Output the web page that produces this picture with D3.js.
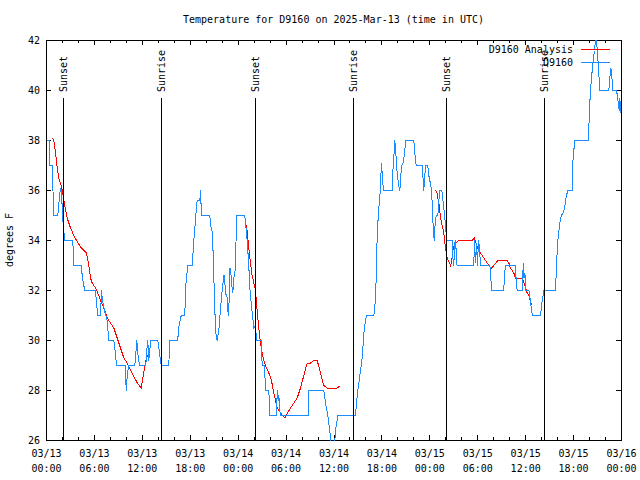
<!DOCTYPE html>
<html>
<head>
<meta charset="utf-8">
<script src="https://cdn.jsdelivr.net/npm/d3@7"></script>
<style>
  html, body { margin: 0; padding: 0; background: #fff; }
  svg { display: block; }
</style>
</head>
<body>
<svg id="chart" width="640" height="480"></svg>
<script>
// ---------------- DATA ----------------
const chartTitle = "Temperature for D9160 on 2025-Mar-13 (time in UTC)";
const yLabel = "degrees F";
const seriesNames = ["D9160 Analysis", "D9160"];
const startUTC = Date.UTC(2025, 2, 13, 0, 0);   // 2025-03-13 00:00 UTC
const spanHours = 72;
const yTicks = [26, 28, 30, 32, 34, 36, 38, 40, 42];
const majorTickHours = [0, 6, 12, 18, 24, 30, 36, 42, 48, 54, 60, 66, 72];
const minorTickHours = [2, 4, 8, 10, 14, 16, 20, 22, 26, 28, 32, 34, 38, 40, 44, 46, 50, 52, 56, 58, 62, 64, 68, 70];
const sunsetHours = [2.17, 26.17, 50.1];
const sunriseHours = [14.4, 38.45, 62.38];

// observed D9160 temperature: [hours since start, degrees F]
const observed = [
[0,38],[0.33,38],[0.41,37],[0.79,37],[0.81,36],[0.91,35],[1.41,35],[1.67,35.9],[1.79,36.1],[1.88,36],[2.0,35],[2.17,34.4],[2.25,34],[3.29,34],[3.42,33],[4.35,33],[4.47,32.6],[4.67,32.2],[4.8,32],[6.14,32],[6.26,31.5],[6.42,31],[6.76,31],[6.89,32],[7.01,31.6],[7.26,31.2],[7.6,30.8],[7.8,30],[8.43,30],[8.58,29.6],[8.77,29],[9.89,29],[9.93,28.3],[10.02,28],[10.1,28.6],[10.31,29],[11.06,29],[11.21,29.6],[11.31,30],[11.43,29.5],[11.65,29],[12.43,29],[12.56,29.6],[12.68,30],[12.81,29.2],[12.94,29.6],[13.02,30],[13.94,30],[14.36,29],[15.31,29],[15.44,30],[16.44,30],[16.53,30.5],[16.87,31],[17.32,31],[17.41,32.1],[17.69,33],[18.24,33],[18.45,34],[18.75,35.2],[18.87,35.6],[19.2,35.6],[19.28,36],[19.41,35],[20.45,35],[20.54,34.6],[20.79,34.3],[20.91,32.9],[21.04,31.7],[21.16,30.4],[21.37,30],[21.58,30.4],[21.79,31.3],[22.0,32],[22.2,32.6],[22.29,32.6],[22.41,31.9],[22.63,31.7],[22.7,31.2],[22.83,31],[22.92,32.9],[23.04,32.9],[23.17,32.3],[23.33,31.9],[23.45,32.5],[23.67,32.9],[23.79,35],[24.83,35],[24.92,34.7],[25.13,34],[25.33,33],[25.46,32.1],[25.63,31.5],[25.96,30.5],[26.17,30.6],[26.3,30],[26.88,30],[27.01,29],[27.3,29],[27.42,28],[27.84,28],[27.96,27],[28.8,27],[28.89,28],[29.01,27.6],[29.09,27.8],[29.21,27.2],[29.3,27],[32.77,27],[32.81,28],[34.72,28],[34.94,27.5],[35.22,27],[35.47,26.4],[35.65,25.8],[36.06,25.8],[36.19,26.4],[36.48,27],[38.69,27],[38.82,27.5],[38.98,28],[39.53,29.3],[39.74,30.3],[39.95,30.8],[40.07,31],[40.98,31],[41.11,31.3],[41.2,31.8],[41.32,32.8],[41.41,34.3],[41.61,35.3],[41.74,35.7],[41.82,36.3],[41.95,37.1],[42.11,36.3],[42.24,36],[43.29,36],[43.36,36.7],[43.49,37.3],[43.61,38],[43.79,37.3],[43.91,36.7],[44.11,36.2],[44.24,36],[44.33,36.4],[44.45,37],[44.67,37.1],[44.83,37.5],[44.99,38],[45.99,38],[46.12,37.5],[46.29,37],[47.04,37],[47.17,36.4],[47.24,36],[47.37,36.6],[47.49,37],[47.74,37],[47.87,36.6],[48.0,36.4],[48.17,36.1],[48.3,35.5],[48.42,34.5],[48.55,34],[48.62,34.5],[48.8,35],[49.0,35],[49.13,35.6],[49.25,36],[49.5,36],[49.68,35.5],[49.88,34.9],[50.0,34.5],[50.09,34],[50.8,34],[50.88,33.3],[51.0,33],[51.12,33.9],[51.25,34],[51.33,33.1],[51.42,33],[53.5,33],[53.59,34],[53.72,33.1],[53.84,33.9],[53.97,33],[54.09,34],[54.22,33.7],[54.35,33],[55.51,33],[55.6,32.8],[55.72,32],[57.26,32],[57.35,32.7],[57.51,33],[58.73,33],[58.82,32.3],[58.94,32],[59.57,32],[59.7,33.1],[59.78,32.5],[59.9,32.7],[60.03,32],[60.41,32],[60.62,31.5],[60.84,31],[61.86,31],[62.07,31.6],[62.28,32],[63.74,32],[63.87,33.1],[64.03,34],[64.28,34.7],[64.45,35],[64.7,35.1],[64.86,35.3],[65.11,35.8],[65.28,36],[65.83,36],[65.9,37.1],[66.03,37.6],[66.15,38],[67.83,38],[67.91,38.5],[68.0,39.3],[68.12,40],[68.25,40.5],[68.41,41.1],[68.62,41.6],[68.74,42],[68.87,42.3],[68.95,41.6],[69.08,41.1],[69.21,40.4],[69.28,40],[70.41,40],[70.54,40.5],[70.67,40.9],[70.8,40.5],[70.92,40],[71.39,40],[71.47,39.8],[71.6,39.5],[71.72,39.2],[71.8,39.7],[71.88,39.1]
];

// analysis D9160 temperature (null = gap)
const analysis = [
[0.75,38.1],[0.91,38.0],[1.13,37.5],[1.34,36.9],[1.54,36.5],[1.75,36.3],[1.97,36.0],[2.17,35.6],[2.59,34.9],[3.01,34.5],[3.42,34.2],[3.76,34.0],[4.35,33.7],[5.01,33.5],[5.35,32.9],[5.51,32.5],[5.72,32.3],[6.14,32.1],[6.55,31.8],[6.76,31.6],[7.18,31.3],[7.6,30.9],[8.01,30.7],[8.43,30.5],[8.85,30.1],[9.27,29.7],[9.68,29.3],[10.1,29.1],[10.73,28.7],[11.36,28.3],[11.86,28.1],[12.06,28.5],[12.27,28.9],[12.43,29.2],[12.81,29.5],
[18, null],
[24.92,34.7],[25.13,34.4],[25.33,33.7],[25.54,33.1],[25.75,32.6],[26.17,32.0],[26.3,31.5],[26.46,30.9],[26.58,30.5],[26.71,30.1],[27.01,29.5],[27.21,29.2],[27.42,29.0],[27.84,28.7],[28.17,28.4],[28.46,27.9],[28.89,27.3],[29.3,27.1],[29.84,26.9],[30.55,27.3],[31.39,27.7],[31.81,28.1],[32.22,28.6],[32.64,29.1],[33.06,29.1],[33.47,29.2],[33.9,29.2],[34.31,28.7],[34.72,28.2],[35.15,28.1],[35.56,28.1],[35.97,28.1],[36.39,28.1],[36.81,28.2],
[42, null],
[48.71,36.0],[48.92,35.9],[49.0,35.7],[49.13,35.5],[49.34,34.9],[49.55,34.6],[49.75,34.3],[49.96,33.7],[50.17,33.3],[50.59,33.0],[50.71,33.1],[50.93,33.7],[51.21,33.9],[51.63,34.0],[52.26,34.0],[52.88,34.0],[53.3,34.0],[53.59,34.1],[54.0,33.7],[54.34,33.5],[54.76,33.3],[55.18,33.1],[55.6,32.9],[55.72,32.9],[56.01,33.0],[56.51,33.2],[56.85,33.2],[57.26,33.2],[57.68,33.2],[57.89,33.1],[58.1,32.9],[58.31,32.8],[58.52,32.7],[58.73,32.5],[59.14,32.5],[59.57,32.5],[59.78,32.3],[59.99,32.1],[60.19,31.9],[60.41,31.8],[60.62,31.5],[60.84,31.4]
];

// ---------------- CHART ----------------
const FONT = "'DejaVu Sans Mono', 'Liberation Mono', monospace";
const L = 46, R = 621, T = 40, B = 440;
const colors = ["#ff0000", "#1a8cff"];
const toDate = h => new Date(startUTC + h * 3600e3);

const svg = d3.select("#chart")
  .attr("font-family", FONT).attr("font-size", 10);
svg.append("rect").attr("width", 640).attr("height", 480).attr("fill", "#fff");

const x = d3.scaleUtc().domain([toDate(0), toDate(spanHours)]).range([L, R]);
const y = d3.scaleLinear().domain([yTicks[0], yTicks[yTicks.length - 1]]).range([B, T]);

svg.append("defs").append("clipPath").attr("id", "plotclip")
  .append("rect").attr("x", L).attr("y", T).attr("width", R - L + 1).attr("height", B - T + 1);

function styleAxis(g) {
  g.attr("font-family", FONT).attr("font-size", 10);
  g.select(".domain").remove();
  g.selectAll(".tick line").attr("stroke", "#000").attr("shape-rendering", "crispEdges");
}

// bottom major ticks + two-line labels
const fmtD = d3.utcFormat("%m/%d"), fmtT = d3.utcFormat("%H:%M");
const gxb = svg.append("g").attr("transform", `translate(0,${B})`)
  .call(d3.axisBottom(x).tickValues(majorTickHours.map(toDate)).tickSizeInner(-5).tickSizeOuter(0).tickFormat(""))
  .call(styleAxis);
gxb.selectAll(".tick text").remove();
gxb.selectAll(".tick").append("text")
  .attr("fill", "#000").attr("text-anchor", "middle")
  .call(t => t.append("tspan").attr("x", 0).attr("y", 17).text(d => fmtD(d)))
  .call(t => t.append("tspan").attr("x", 0).attr("y", 32).text(d => fmtT(d)));
// bottom minor
svg.append("g").attr("transform", `translate(0,${B})`)
  .call(d3.axisBottom(x).tickValues(minorTickHours.map(toDate)).tickSizeInner(-3).tickSizeOuter(0).tickFormat(""))
  .call(styleAxis);
// top mirror
svg.append("g").attr("transform", `translate(0,${T})`)
  .call(d3.axisTop(x).tickValues(majorTickHours.map(toDate)).tickSizeInner(-5).tickSizeOuter(0).tickFormat(""))
  .call(styleAxis);
svg.append("g").attr("transform", `translate(0,${T})`)
  .call(d3.axisTop(x).tickValues(minorTickHours.map(toDate)).tickSizeInner(-3).tickSizeOuter(0).tickFormat(""))
  .call(styleAxis);
// y axes
svg.append("g").attr("transform", `translate(${L},0)`)
  .call(d3.axisLeft(y).tickValues(yTicks).tickSizeInner(-5).tickSizeOuter(0).tickPadding(6).tickFormat(d3.format("d")))
  .call(styleAxis)
  .call(g => g.selectAll(".tick text").attr("fill", "#000"));
svg.append("g").attr("transform", `translate(${R},0)`)
  .call(d3.axisRight(y).tickValues(yTicks).tickSizeInner(-5).tickSizeOuter(0).tickFormat(""))
  .call(styleAxis);

// frame
svg.append("rect").attr("x", L + 0.5).attr("y", T + 0.5)
  .attr("width", R - L).attr("height", B - T)
  .attr("fill", "none").attr("stroke", "#000").attr("stroke-width", 1)
  .attr("shape-rendering", "crispEdges");

// title & y label
svg.append("text").attr("x", (L + R) / 2).attr("y", 23).attr("text-anchor", "middle").text(chartTitle);
svg.append("text").attr("transform", `translate(13,${(T + B) / 2}) rotate(-90)`)
  .attr("text-anchor", "middle").text(yLabel);

const line = d3.line()
  .defined(d => d[1] != null)
  .x(d => x(toDate(d[0])))
  .y(d => y(d[1]));

const dataG = svg.append("g").attr("clip-path", "url(#plotclip)");
const inner = dataG.append("g").attr("transform", "translate(0.5,0.5)");

// legend rows
const legendRows = [49.5, 62.5];
function legendEntry(i) {
  svg.append("text").attr("x", 573).attr("y", legendRows[i]).attr("dy", "0.35em")
    .attr("text-anchor", "end").text(seriesNames[i]);
  svg.append("line").attr("x1", 581).attr("x2", 610)
    .attr("y1", Math.floor(legendRows[i]) + 0.5).attr("y2", Math.floor(legendRows[i]) + 0.5)
    .attr("stroke", colors[i]).attr("stroke-width", 1).attr("shape-rendering", "crispEdges");
}

legendEntry(0);
inner.append("path").datum(analysis).attr("d", line)
  .attr("fill", "none").attr("stroke", colors[0]).attr("stroke-width", 1)
  .attr("shape-rendering", "crispEdges");
legendEntry(1);
inner.append("path").datum(observed).attr("d", line)
  .attr("fill", "none").attr("stroke", colors[1]).attr("stroke-width", 1)
  .attr("shape-rendering", "crispEdges");

// sunrise / sunset markers
const events = sunsetHours.map(h => ({h, label: "Sunset"}))
  .concat(sunriseHours.map(h => ({h, label: "Sunrise"})));
const ev = svg.append("g");
ev.selectAll("line").data(events).join("line")
  .attr("x1", d => Math.round(x(toDate(d.h))) + 0.5)
  .attr("x2", d => Math.round(x(toDate(d.h))) + 0.5)
  .attr("y1", 98).attr("y2", B)
  .attr("stroke", "#000").attr("stroke-width", 1)
  .attr("shape-rendering", "crispEdges");
ev.selectAll("text").data(events).join("text")
  .attr("transform", d => `translate(${Math.round(x(toDate(d.h))) + 0.5},92) rotate(-90)`)
  .attr("dy", "0.35em").attr("text-anchor", "start")
  .text(d => d.label);
</script>
</body>
</html>
